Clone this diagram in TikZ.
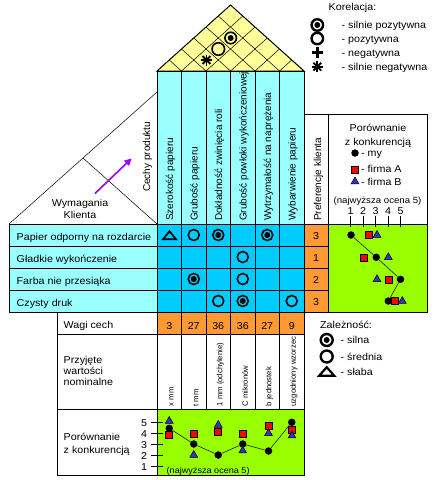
\documentclass[tikz,border=0pt]{standalone}
\usepackage{fontspec}
\setmainfont{Liberation Sans}
\newfontfamily\wfont{Liberation Sans}[FakeStretch=1.07]
\usetikzlibrary{shapes.geometric,arrows.meta}
\definecolor{roofY}{HTML}{FFFF99}
\definecolor{lcyan}{HTML}{99FFFF}
\definecolor{mcyan}{HTML}{00CCFF}
\definecolor{orng}{HTML}{FF9933}
\definecolor{lgreen}{HTML}{99FF00}
\definecolor{purp}{HTML}{9900FF}
\definecolor{bluet}{HTML}{3333CC}
\tikzset{
  grid/.style={line width=1pt},
  fine/.style={line width=0.5pt},
  txt/.style={font=\wfont\fontsize{10}{12}\selectfont, inner sep=0pt, anchor=base west},
  ctxt/.style={font=\wfont\fontsize{10}{12}\selectfont, inner sep=0pt, anchor=base},
  vtxt/.style={font=\fontsize{10}{12}\selectfont, inner sep=0pt, rotate=90, anchor=west},
  ntxt/.style={font=\fontsize{7.7}{9}\selectfont, inner sep=0pt, rotate=90, anchor=west},
  medsym/.style={circle, draw, line width=1.6pt, minimum size=11pt, inner sep=0pt},
  strongsym/.style={medsym, path picture={\fill (path picture bounding box.center) circle (3pt);}},
  mydot/.style={circle, fill=black, minimum size=7.5pt, inner sep=0pt},
  asq/.style={rectangle, fill=red, draw=black, line width=0.6pt, minimum size=7pt, inner sep=0pt},
  btri/.style={regular polygon, regular polygon sides=3, fill=bluet, draw=black, line width=0.5pt, minimum size=9pt, inner sep=0pt},
  weakpic/.pic={\draw[line width=1.8pt, line join=miter] (-6.5,3.8) -- (6.5,3.8) -- (0,-4.2) -- cycle;},
  bigweakpic/.pic={\draw[line width=2.2pt, line join=miter] (-7.5,4) -- (7.5,4) -- (0,-4.5) -- cycle;},
  astpic/.pic={\foreach \a in {0,45,90,135} \draw[line width=1.8pt] (\a:5.5) -- (\a+180:5.5);},
  pluspic/.pic={\draw[line width=2.8pt] (-5.5,0) -- (5.5,0) (0,-5.5) -- (0,5.5);},
}
\begin{document}
\begin{tikzpicture}[x=1pt,y=-1pt]
\useasboundingbox (0,0) rectangle (436,480);
\fill[white] (0,0) rectangle (436,480);

% ---------- roof ----------
\coordinate (rL) at (157,71); \coordinate (rR) at (304,71); \coordinate (rT) at (230.5,5);
\filldraw[fill=roofY, grid] (rL) -- (rT) -- (rR) -- cycle;
\foreach \k in {1,...,5} {
  \pgfmathsetmacro\b{157+24.5*\k}
  \pgfmathsetmacro\xr{(\b+304)/2}
  \pgfmathsetmacro\yr{71-0.449*(304-\b)}
  \pgfmathsetmacro\xl{(157+\b)/2}
  \pgfmathsetmacro\yl{71-0.449*(\b-157)}
  \draw[fine] (\xl,\yl) -- (\b,71) -- (\xr,\yr);
}
\node[strongsym, minimum size=11.5pt] (c25) at (230.7,38) {};
\node[medsym, minimum size=12.5pt] (c24) at (218.3,49) {};
\pic at (206.5,60) {astpic};

% ---------- column headers ----------
\filldraw[fill=lcyan, grid] (157,71) rectangle (304,224);
\foreach \k in {1,...,5} \draw[grid] ({157+24.5*\k},71) -- ({157+24.5*\k},224);
\node[vtxt] (h1) at (170.5,221) {Szerokość papieru};
\node[vtxt] (h2) at (195,221) {Grubość papieru};
\node[vtxt] (h3) at (219.5,221) {Dokładność zwinięcia roli};
\node[vtxt] (h4) at (244,221) {Grubość powłoki wykończeniowej};
\node[vtxt] (h5) at (268.5,221) {Wytrzymałość na naprężenia};
\node[vtxt] (h6) at (293,221) {Wybarwienie papieru};

% ---------- left corner ----------
\coordinate (tA) at (9,224); \coordinate (tB) at (157,92);
\coordinate (tC) at (157,224); \coordinate (tM) at (83,158);
\draw[fine] (tA) -- (tB);
\draw[fine] (tM) -- (tC);
\coordinate (aS) at (95,193.5); \coordinate (aE) at (131.5,158.5);
\draw[purp, line width=1.6pt, -{Triangle[length=7pt,width=7pt]}] (aS) -- (aE);
\node[ctxt] (wk1) at (80,206.5) {Wymagania};
\node[ctxt] (wk2) at (80,218) {Klienta};
\node[vtxt] (cp) at (147.5,192) {Cechy produktu};

% ---------- rows ----------
\filldraw[fill=lcyan, grid] (9,224) rectangle (157,312);
\foreach \y in {246,268,290} \draw[grid] (9,\y) -- (157,\y);
\node[txt] (w1) at (16.5,240) {Papier odporny na rozdarcie};
\node[txt] (w2) at (16.5,262) {Gładkie wykończenie};
\node[txt] (w3) at (16.5,284) {Farba nie przesiąka};
\node[txt] (w4) at (16.5,306) {Czysty druk};

% ---------- matrix ----------
\filldraw[fill=mcyan, grid] (157,224) rectangle (304,312);
\foreach \y in {246,268,290} \draw[grid] (157,\y) -- (304,\y);
\foreach \k in {1,...,5} \draw[grid] ({157+24.5*\k},224) -- ({157+24.5*\k},312);
\pic at (169.5,235.5) {weakpic};
\node[medsym] (m12) at (193.75,235) {};
\node[strongsym] (m13) at (218.25,235) {};
\node[strongsym] (m15) at (267.25,235) {};
\node[medsym] (m24) at (242.75,257) {};
\node[strongsym] (m32) at (193.75,279) {};
\node[medsym] (m34) at (242.75,279) {};
\node[medsym] (m43) at (218.25,301) {};
\node[strongsym] (m44) at (242.75,301) {};
\node[medsym] (m46) at (291.75,301) {};

% ---------- preference column ----------
\draw[grid] (304,114) rectangle (328,224);
\node[vtxt] (pk) at (318.5,221) {Preferencje klienta};
\filldraw[fill=orng, grid] (304,224) rectangle (328,312);
\foreach \y in {246,268,290} \draw[grid] (304,\y) -- (328,\y);
\node[ctxt] (p1) at (316,239) {3};
\node[ctxt] (p2) at (316,261) {1};
\node[ctxt] (p3) at (316,283) {2};
\node[ctxt] (p4) at (316,305) {3};

% ---------- competition (right) ----------
\draw[grid] (328,114) rectangle (427,224);
\node[ctxt] (ph1) at (378,131.5) {Porównanie};
\node[ctxt] (ph2) at (378,145) {z konkurencją};
\node[mydot] (lg1) at (355,153) {};
\node[asq] (lg2) at (355,169.3) {};
\node[btri] (lg3) at (355,181.5) {};
\node[txt] (lt1) at (361,156.5) {- my};
\node[txt] (lt2) at (361,172.7) {- firma A};
\node[txt] (lt3) at (361,185) {- firma B};
\node[ctxt, font=\wfont\fontsize{9}{11}\selectfont] (nj) at (377.5,203.5) {(najwyższa ocena 5)};
\filldraw[fill=lgreen, grid] (328,224) rectangle (427,312);
\foreach \i/\x in {1/350.7,2/363.2,3/375.7,4/388.2,5/400.7} {
  \draw[fine] (\x,215.5) -- (\x,227);
  \node[ctxt] (sc\i) at (\x,214) {\i};
}
\node[mydot] (r1m) at (351,235) {};
\node[mydot] (r2m) at (376.3,257.3) {};
\node[mydot] (r3m) at (400.5,279.3) {};
\node[mydot] (r4m) at (388.3,301) {};
\draw[fine] (r1m) -- (r2m) -- (r3m) -- (r4m);
\node[asq] (r1a) at (368.3,235) {};
\node[asq] (r2a) at (364,257.3) {};
\node[asq] (r3a) at (388.3,279.3) {};
\node[asq] (r4a) at (394.3,301) {};
\node[btri] (r1b) at (377,235) {};
\node[btri] (r2b) at (388.3,257.3) {};
\node[btri] (r3b) at (377,279.3) {};
\node[btri] (r4b) at (402.3,301) {};

% ---------- weights ----------
\draw[grid] (57,312) rectangle (157,334);
\node[txt] (wc) at (63.5,328.5) {Wagi cech};
\filldraw[fill=orng, grid] (157,312) rectangle (304,334);
\foreach \k in {1,...,5} \draw[grid] ({157+24.5*\k},312) -- ({157+24.5*\k},334);
\foreach \i/\v in {1/3,2/27,3/36,4/36,5/27,6/9}
  \node[ctxt] (wg\i) at ({157+24.5*\i-12.25},329) {\v};

% ---------- nominal values ----------
\draw[grid] (57,334) rectangle (157,409);
\node[txt] (nv1) at (63.5,363) {Przyjęte};
\node[txt] (nv2) at (63.5,374) {wartości};
\node[txt] (nv3) at (63.5,385) {nominalne};
\draw[grid] (157,334) rectangle (304,409);
\foreach \k in {1,...,5} \draw[grid] ({157+24.5*\k},334) -- ({157+24.5*\k},409);
\node[ntxt] (n1) at (171.5,406.5) {x mm};
\node[ntxt] (n2) at (196,406.5) {t mm};
\node[ntxt] (n3) at (220.5,406.5) {1 mm (odchylenie)};
\node[ntxt] (n4) at (245,406.5) {C mikronów};
\node[ntxt] (n5) at (269.5,406.5) {b jednostek};
\node[ntxt] (n6) at (294,406.5) {uzgodniony wzorzec};

% ---------- bottom competition ----------
\draw[grid] (57,409) rectangle (157,475);
\node[txt] (bp1) at (63.5,440) {Porównanie};
\node[txt] (bp2) at (63.5,453) {z konkurencją};
\filldraw[fill=lgreen, grid] (157,409) rectangle (304,475);
\foreach \n in {1,...,5} {
  \pgfmathsetmacro\yy{422.7+11*(5-\n)}
  \draw[fine] (151,\yy) -- (163,\yy);
  \node[ctxt] (ax\n) at (144,\yy+3.6) {\n};
}
\node[font=\wfont\fontsize{8.5}{10}\selectfont, inner sep=0pt, anchor=base west] (nj2) at (166.5,473) {(najwyższa ocena 5)};
\node[mydot] (b1m) at (169.25,428.3) {};
\node[mydot] (b2m) at (193.75,444) {};
\node[mydot] (b3m) at (218.25,455) {};
\node[mydot] (b4m) at (242.75,444) {};
\node[mydot] (b5m) at (268.5,451) {};
\node[mydot] (b6m) at (291.75,422.3) {};
\draw[fine] (b1m) -- (b2m) -- (b3m) -- (b4m) -- (b5m) -- (b6m);
\node[asq] (b1a) at (169.25,434.3) {};
\node[asq] (b2a) at (193.75,433.3) {};
\node[asq] (b3a) at (218.25,431.7) {};
\node[asq] (b4a) at (242.75,433.3) {};
\node[asq] (b5a) at (268.5,426) {};
\node[asq] (b6a) at (292,429.3) {};
\node[btri] (b1b) at (169.25,421) {};
\node[btri] (b2b) at (193.75,455) {};
\node[btri] (b3b) at (218.25,425) {};
\node[btri] (b4b) at (242.75,450.7) {};
\node[btri] (b5b) at (268.5,433.3) {};
\node[btri] (b6b) at (292,435.7) {};

% ---------- legend: korelacja ----------
\node[txt] (kl) at (328.5,10.5) {Korelacja:};
\node[strongsym, line width=2.4pt, minimum size=11.5pt] (ks1) at (317.3,25) {};
\node[medsym, line width=2.4pt, minimum size=11.5pt] (ks2) at (317.3,38.5) {};
\pic at (317.3,52.3) {pluspic};
\pic at (317.3,66.7) {astpic};
\node[txt] (kt1) at (341.5,28.5) {- silnie pozytywna};
\node[txt] (kt2) at (341.5,42) {- pozytywna};
\node[txt] (kt3) at (341.5,56) {- negatywna};
\node[txt] (kt4) at (341.5,70) {- silnie negatywna};

% ---------- legend: zaleznosc ----------
\node[txt] (zl) at (320,328.5) {Zależność:};
\node[strongsym, line width=2.4pt, minimum size=12pt] (zs1) at (326.7,340) {};
\node[medsym, line width=2.4pt, minimum size=12pt] (zs2) at (326.7,356.5) {};
\pic at (326.7,371.7) {bigweakpic};
\node[txt] (zt1) at (340.5,343.5) {- silna};
\node[txt] (zt2) at (340.5,360) {- średnia};
\node[txt] (zt3) at (340.5,375) {- słaba};
\end{tikzpicture}
\end{document}
